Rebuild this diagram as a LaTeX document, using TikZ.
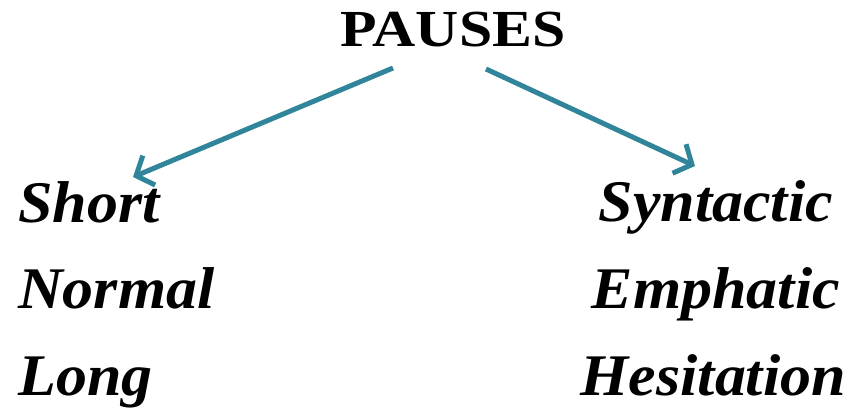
\documentclass[tikz,border=0pt]{standalone}
\usepackage{fontspec}
\setmainfont{Liberation Serif}
\usepackage{graphicx}
\usetikzlibrary{arrows.meta}
\definecolor{tealarrow}{RGB}{49,133,155}
\newcommand{\wideit}[1]{\scalebox{1.05}[1]{#1}}
\begin{document}
\begin{tikzpicture}[x=1pt,y=-1pt,
  itemtext/.style={inner sep=0pt, font=\fontsize{59}{60}\selectfont\bfseries\itshape},
  titletext/.style={inner sep=0pt, font=\fontsize{52}{54}\selectfont\bfseries},
  branch/.style={draw=tealarrow, line width=5pt, -{Straight Barb[length=14pt,width=32pt]}}]
\useasboundingbox (0,0) rectangle (852,412);
\node[titletext, anchor=base] (p) at (453,47) {\scalebox{1.15}[1]{PAUSES}};
\node[itemtext, anchor=base west] (s) at (18,222) {\wideit{Short}};
\node[itemtext, anchor=base west] (n) at (18,308) {\wideit{Normal}};
\node[itemtext, anchor=base west] (l) at (18,395) {\wideit{Long}};
\node[itemtext, anchor=base east] (sy) at (833,221) {\wideit{Syntactic}};
\node[itemtext, anchor=base east] (em) at (840,308) {\wideit{Emphatic}};
\node[itemtext, anchor=base east] (he) at (846,395) {\wideit{Hesitation}};
\coordinate (l0) at (393,68);
\coordinate (l1) at (133,177);
\coordinate (r0) at (486,69);
\coordinate (r1) at (695,166);
\draw[branch] (l0) -- (l1);
\draw[branch] (r0) -- (r1);
\end{tikzpicture}
\end{document}
